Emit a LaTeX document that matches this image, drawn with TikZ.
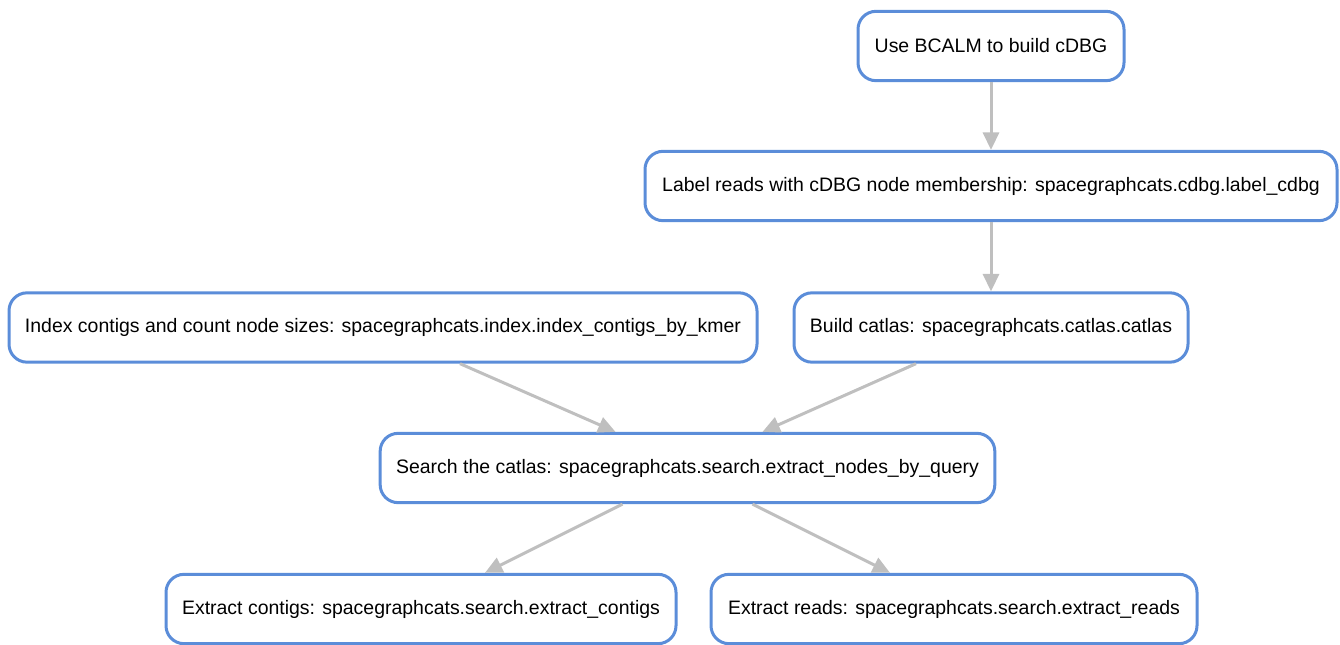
\documentclass[tikz,border=0pt]{standalone}
\usepackage{fontspec}
\setmainfont{Liberation Sans}
\usetikzlibrary{arrows.meta,calc}

\definecolor{stepblue}{RGB}{91,141,217}
\definecolor{edgegray}{RGB}{191,191,191}

\tikzset{every picture/.style={line width=0.75pt}}
\tikzset{
  rulebox/.style={draw=stepblue, line width=2.25pt, rounded corners=13.5pt, fill=white,
    minimum height=52pt, inner sep=0.75pt, font=\fontsize{14.6}{17}\selectfont},
  flow/.style={draw=edgegray, line width=2.25pt, -{Triangle[length=13pt,width=12pt]}}
}

\begin{document}
\begin{tikzpicture}[x=0.75pt,y=0.75pt,yscale=-1,xscale=1]
	\useasboundingbox (0,0) rectangle (1340,645);

	% Rule nodes
	\node (bcalm) [rulebox, minimum width=199.5pt] at (991,46) {Use BCALM to build cDBG};
	\node (label) [rulebox, minimum width=519pt] at (991,186) {Label reads with cDBG node membership: spacegraphcats.cdbg.label\_cdbg};
	\node (index) [rulebox, minimum width=561pt] at (383,327.5) {Index contigs and count node sizes: spacegraphcats.index.index\_contigs\_by\_kmer};
	\node (catlas) [rulebox, minimum width=295.5pt] at (991,327.5) {Build catlas: spacegraphcats.catlas.catlas};
	\node (search) [rulebox, minimum width=461pt] at (687.5,468) {Search the catlas: spacegraphcats.search.extract\_nodes\_by\_query};
	\node (contigs) [rulebox, minimum width=382.5pt] at (421,609) {Extract contigs: spacegraphcats.search.extract\_contigs};
	\node (reads) [rulebox, minimum width=364.5pt] at (954,609) {Extract reads: spacegraphcats.search.extract\_reads};

	% Edges
	\draw [flow] (bcalm) -- (label);
	\draw [flow] (label) -- (catlas);
	\draw [flow] ($(index.south)+(77,0)$) -- ($(search.north)+(-72,0)$);
	\draw [flow] ($(catlas.south)+(-75,0)$) -- ($(search.north)+(75,0)$);
	\draw [flow] ($(search.south)+(-65,0)$) -- ($(contigs.north)+(64,0)$);
	\draw [flow] ($(search.south)+(65,0)$) -- ($(reads.north)+(-64,0)$);

\end{tikzpicture}
\end{document}
